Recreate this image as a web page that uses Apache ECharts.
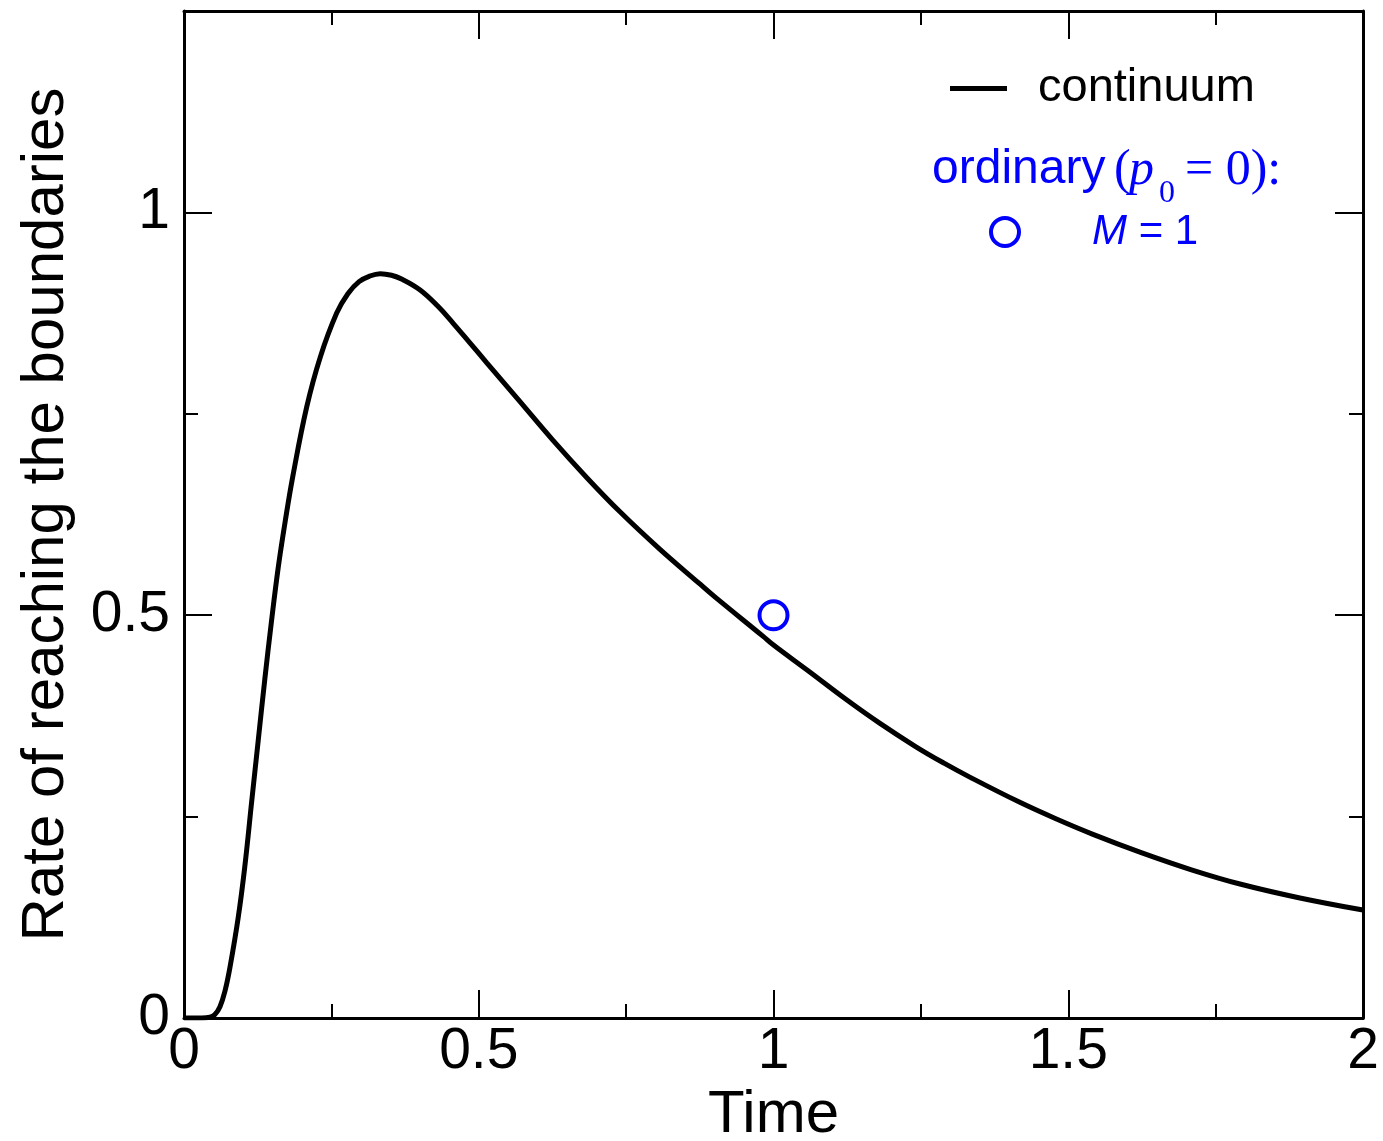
<!DOCTYPE html>
<html>
<head>
<meta charset="utf-8">
<script src="https://cdn.jsdelivr.net/npm/echarts@6/dist/echarts.min.js"></script>
<style>
  html, body { margin: 0; padding: 0; background: #fff; }
  #main { width: 1383px; height: 1141px; }
</style>
</head>
<body>
<div id="main"></div>
<script>
// curve (time, rate)
const timeVals = [0, 0.03, 0.044, 0.052, 0.061, 0.07, 0.078, 0.092, 0.103, 0.115, 0.126, 0.137, 0.148,
  0.16, 0.172, 0.185, 0.208, 0.231, 0.259, 0.278, 0.297, 0.315, 0.333, 0.352, 0.37, 0.40, 0.43, 0.457,
  0.485, 0.514, 0.570, 0.626, 0.683, 0.740, 0.807, 0.873, 0.9, 0.982, 1.0, 1.057, 1.124, 1.18, 1.241,
  1.29, 1.333, 1.417, 1.48, 1.542, 1.625, 1.709, 1.793, 1.893, 2.0];
const rateVals = [0, 0, 0.001, 0.004, 0.014, 0.035, 0.063, 0.125, 0.187, 0.27, 0.345, 0.42, 0.49,
  0.56, 0.618, 0.674, 0.758, 0.820, 0.875, 0.899, 0.914, 0.921, 0.924, 0.922, 0.917, 0.904, 0.884, 0.862,
  0.838, 0.813, 0.765, 0.717, 0.671, 0.628, 0.582, 0.540, 0.523, 0.474, 0.463, 0.432, 0.395, 0.366, 0.337,
  0.316, 0.299, 0.268, 0.247, 0.228, 0.205, 0.184, 0.166, 0.149, 0.134];
// ordinary (p0 = 0), M = 1
const ordTime = [1.0];
const ordRate = [0.5];
const yLabels = [0, 0.5, 1];

const FONT = "'Liberation Sans', Arial, Helvetica, sans-serif";
const SERIF = "'Liberation Serif', 'Times New Roman', serif";
const BLUE = "#0000ff";

const chart = echarts.init(document.getElementById("main"));

function baseX(pos, withLabels) {
  return {
    type: "value",
    position: pos,
    min: 0,
    max: 2,
    interval: 0.5,
    axisLine: { show: true, onZero: false, lineStyle: { color: "#000", width: 3 } },
    axisTick: { show: true, inside: true, length: 28, lineStyle: { color: "#000", width: 2 } },
    minorTick: { show: true, splitNumber: 2, length: 14, lineStyle: { color: "#000", width: 2 } },
    splitLine: { show: false },
    axisLabel: {
      show: withLabels,
      margin: 6,
      color: "#000",
      fontSize: 57,
      fontFamily: FONT,
      formatter: v => String(v)
    }
  };
}

// minor ticks (0.25 step) and major ticks (0.5 step) as two stacked axes
function baseY(pos, step, tickLen, withLine, withLabels) {
  return {
    type: "value",
    position: pos,
    min: 0,
    max: 1.25,
    interval: step,
    axisLine: { show: withLine, onZero: false, lineStyle: { color: "#000", width: 3 } },
    axisTick: { show: true, inside: true, length: tickLen, lineStyle: { color: "#000", width: 2 } },
    splitLine: { show: false },
    axisLabel: {
      show: withLabels,
      margin: 14,
      color: "#000",
      fontSize: 57,
      fontFamily: FONT,
      formatter: v => (yLabels.indexOf(v) >= 0 ? String(v) : "")
    }
  };
}

const xBottom = baseX("bottom", true);
xBottom.name = "Time";
xBottom.nameLocation = "middle";
xBottom.nameGap = 62;
xBottom.nameTextStyle = { color: "#000", fontSize: 60, fontFamily: FONT };

const yLeft = baseY("left", 0.25, 14, true, true);
yLeft.name = "Rate of reaching the boundaries";
yLeft.nameLocation = "middle";
yLeft.nameGap = 108;
yLeft.nameRotate = 90;
yLeft.nameTextStyle = { color: "#000", fontSize: 60, fontFamily: FONT };

const option = {
  backgroundColor: "#fff",
  animation: false,
  grid: { left: 184, right: 20, top: 11, bottom: 123, containLabel: false, outerBoundsMode: "none" },
  xAxis: [xBottom, baseX("top", false)],
  yAxis: [
    yLeft,
    baseY("left", 0.5, 28, false, false),
    baseY("right", 0.25, 14, true, false),
    baseY("right", 0.5, 28, false, false)
  ],
  legend: [
    {
      data: [{ name: "continuum", icon: "rect", itemStyle: { color: "#000" } }],
      left: 950,
      top: 65,
      padding: 0,
      itemWidth: 57,
      itemHeight: 5,
      textStyle: { color: "#000", fontSize: 47, fontFamily: FONT, padding: [0, 0, 0, 26] }
    },
    {
      data: [{ name: "M = 1", icon: "circle", itemStyle: { color: "#fff", borderColor: BLUE, borderWidth: 4, opacity: 1 } }],
      left: 989,
      top: 211,
      padding: 0,
      itemWidth: 28,
      itemHeight: 28,
      formatter: () => "{i|M} = 1",
      textStyle: {
        color: BLUE,
        fontSize: 42,
        fontFamily: FONT,
        padding: [0, 0, 0, 68],
        rich: { i: { fontStyle: "italic", color: BLUE, fontSize: 42, fontFamily: FONT } }
      }
    }
  ],
  graphic: [
    { type: "text", left: 932, top: 146, style: { text: "ordinary", fill: BLUE, font: "48px " + FONT } },
    { type: "text", left: 1114, top: 146, style: { text: "(", fill: BLUE, font: "50px " + SERIF } },
    { type: "text", left: 1129, top: 146, style: { text: "p", fill: BLUE, font: "italic 50px " + SERIF } },
    { type: "text", left: 1159, top: 178, style: { text: "0", fill: BLUE, font: "32px " + SERIF } },
    { type: "text", left: 1185, top: 146, style: { text: "= 0):", fill: BLUE, font: "50px " + SERIF } }
  ],
  series: [
    {
      name: "continuum",
      type: "line",
      xAxisIndex: 0,
      yAxisIndex: 0,
      data: timeVals.map((t, i) => [t, rateVals[i]]),
      symbol: "none",
      smooth: 0.4,
      clip: true,
      lineStyle: { color: "#000", width: 5 },
      itemStyle: { color: "#000" }
    },
    {
      name: "M = 1",
      type: "scatter",
      xAxisIndex: 0,
      yAxisIndex: 0,
      data: ordTime.map((t, i) => [t, ordRate[i]]),
      symbol: "circle",
      symbolSize: 28,
      itemStyle: { color: "#fff", borderColor: BLUE, borderWidth: 4, opacity: 1 }
    }
  ]
};

chart.setOption(option);
</script>
</body>
</html>
